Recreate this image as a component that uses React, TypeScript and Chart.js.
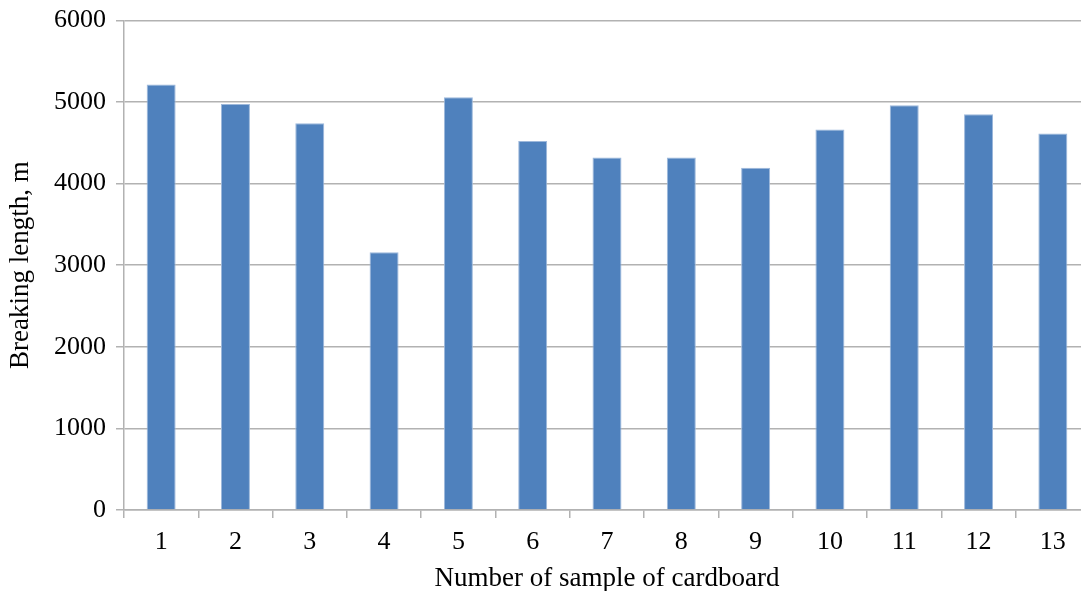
import React, { useEffect, useRef } from "react";
import { Chart, registerables } from "chart.js";

Chart.register(...registerables);

const categories = ["1", "2", "3", "4", "5", "6", "7", "8", "9", "10", "11", "12", "13"];
const breakingLength = [5213, 4977, 4741, 3159, 5059, 4521, 4321, 4321, 4194, 4663, 4961, 4851, 4614];
const yTicks = [0, 1000, 2000, 3000, 4000, 5000, 6000];
const xTitle = "Number of sample of cardboard";
const yTitle = "Breaking length, m";

const FONT = "'Liberation Serif', 'Times New Roman', serif";
const GRID = "#B2B2B2";

export default function App() {
  const ref = useRef<HTMLCanvasElement | null>(null);

  useEffect(() => {
    if (!ref.current) return;
    const chart = new Chart(ref.current, {
      type: "bar",
      data: {
        labels: categories,
        datasets: [
          {
            data: breakingLength,
            backgroundColor: "#4F81BD",
            borderColor: "#9DB8DB",
            borderWidth: 1,
            barPercentage: 0.39,
            categoryPercentage: 1,
          },
        ],
      },
      options: {
        responsive: false,
        animation: false,
        layout: { padding: { top: 19, right: 0, bottom: 0, left: 0 } },
        plugins: { legend: { display: false }, tooltip: { enabled: false } },
        scales: {
          x: {
            offset: true,
            grid: {
              offset: true,
              drawOnChartArea: false,
              drawTicks: true,
              tickLength: 8,
              color: GRID,
              lineWidth: 1.5,
            },
            border: { display: true, color: GRID, width: 1.5 },
            ticks: {
              color: "#000",
              font: { family: FONT, size: 26 },
              padding: 9,
              maxRotation: 0,
              autoSkip: false,
            },
            title: {
              display: true,
              text: xTitle,
              color: "#000",
              font: { family: FONT, size: 27, lineHeight: 1 },
              padding: { top: 0, bottom: -1 },
            },
            afterFit: (scale: any) => {
              scale.height = 81;
            },
          },
          y: {
            min: 0,
            max: 6000,
            afterBuildTicks: (scale: any) => {
              scale.ticks = yTicks.map((v) => ({ value: v }));
            },
            grid: {
              color: GRID,
              lineWidth: 1.5,
              tickLength: 8,
              drawTicks: true,
            },
            border: { display: true, color: GRID, width: 1.5 },
            ticks: {
              color: "#000",
              font: { family: FONT, size: 26, lineHeight: 0.8 },
              padding: 10,
              callback: (v: any) => String(v),
            },
            title: {
              display: true,
              text: yTitle,
              color: "#000",
              font: { family: FONT, size: 27, lineHeight: 1.2 },
              padding: { top: 5, bottom: 0 },
            },
            afterFit: (scale: any) => {
              scale.width = 124;
            },
          },
        },
      },
    });
    return () => chart.destroy();
  }, []);

  return (
    <div style={{ position: "fixed", left: 0, top: 0, width: 1081, height: 591, overflow: "hidden", background: "#fff" }}>
      <canvas ref={ref} width={1090} height={591} style={{ display: "block", width: 1090, height: 591 }} />
    </div>
  );
}
